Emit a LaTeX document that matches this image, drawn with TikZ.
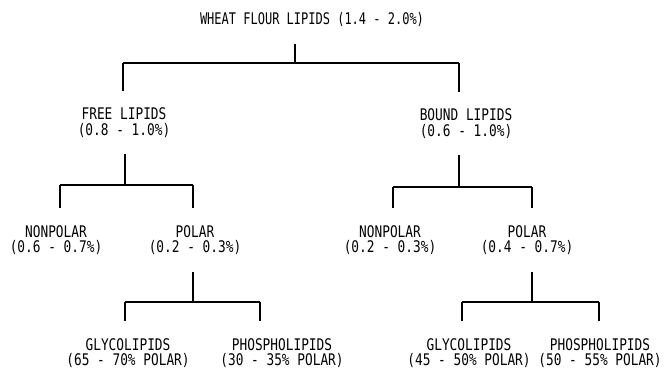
\documentclass[tikz,border=0pt]{standalone}
\usepackage{fontspec}
\setmonofont[FakeStretch=0.80]{DejaVu Sans Mono}

\begin{document}
\begin{tikzpicture}[
    x=0.75pt, y=-0.75pt,
    lbl/.style={align=center, inner xsep=0pt, inner ysep=12.5pt,
        font=\ttfamily\fontsize{12pt}{11.6pt}\selectfont},
    link/.style={draw=black, line width=1pt}
]
    \useasboundingbox (0,0) rectangle (666,369);

    % ---- Whole flour (top) ----
    \node[lbl] (flour) at (312,19.5)
        {\addfontfeature{FakeStretch=0.75}WHEAT FLOUR LIPIDS (1.4 - 2.0\%)};

    % ---- Free / bound ----
    \node[lbl] (free)  at (124,122.5) {FREE LIPIDS\\(0.8 - 1.0\%)};
    \node[lbl] (bound) at (466,123.5) {BOUND LIPIDS\\(0.6 - 1.0\%)};

    \coordinate (flourJ) at (295,63);
    \coordinate (flourL) at (123,63);
    \coordinate (flourR) at (459,63);
    \draw[link] (flourJ |- flour.south) -- (flourJ);
    \draw[link] (flourL) -- (flourR);
    \draw[link] (flourL) -- (flourL |- free.north);
    \draw[link] (flourR) -- (flourR |- bound.north);

    % ---- Nonpolar / polar ----
    \node[lbl] (npfree)  at (56,240)  {NONPOLAR\\(0.6 - 0.7\%)};
    \node[lbl] (pfree)   at (195,240) {POLAR\\(0.2 - 0.3\%)};
    \node[lbl] (npbound) at (390,240) {NONPOLAR\\(0.2 - 0.3\%)};
    \node[lbl] (pbound)  at (527,240) {POLAR\\(0.4 - 0.7\%)};

    \coordinate (freeJ) at (125,185);
    \coordinate (freeL) at (60,185);
    \coordinate (freeR) at (193,185);
    \draw[link] (freeJ |- free.south) -- (freeJ);
    \draw[link] (freeL) -- (freeR);
    \draw[link] (freeL) -- (freeL |- npfree.north);
    \draw[link] (freeR) -- (freeR |- pfree.north);

    \coordinate (boundJ) at (459,187);
    \coordinate (boundL) at (393,187);
    \coordinate (boundR) at (532,187);
    \draw[link] (boundJ |- bound.south) -- (boundJ);
    \draw[link] (boundL) -- (boundR);
    \draw[link] (boundL) -- (boundL |- npbound.north);
    \draw[link] (boundR) -- (boundR |- pbound.north);

    % ---- Glyco / phospho (bottom row) ----
    \node[lbl] (glfree)  at (128,353) {GLYCOLIPIDS\\(65 - 70\% POLAR)};
    \node[lbl] (phfree)  at (282,353) {PHOSPHOLIPIDS\\(30 - 35\% POLAR)};
    \node[lbl] (glbound) at (469,353) {GLYCOLIPIDS\\(45 - 50\% POLAR)};
    \node[lbl] (phbound) at (600,353) {PHOSPHOLIPIDS\\(50 - 55\% POLAR)};

    \coordinate (pfreeJ) at (193,302);
    \coordinate (pfreeL) at (125,302);
    \coordinate (pfreeR) at (260,302);
    \draw[link] (pfreeJ |- pfree.south) -- (pfreeJ);
    \draw[link] (pfreeL) -- (pfreeR);
    \draw[link] (pfreeL) -- (pfreeL |- glfree.north);
    \draw[link] (pfreeR) -- (pfreeR |- phfree.north);

    \coordinate (pboundJ) at (532,302);
    \coordinate (pboundL) at (462,302);
    \coordinate (pboundR) at (599,302);
    \draw[link] (pboundJ |- pbound.south) -- (pboundJ);
    \draw[link] (pboundL) -- (pboundR);
    \draw[link] (pboundL) -- (pboundL |- glbound.north);
    \draw[link] (pboundR) -- (pboundR |- phbound.north);
\end{tikzpicture}
\end{document}
